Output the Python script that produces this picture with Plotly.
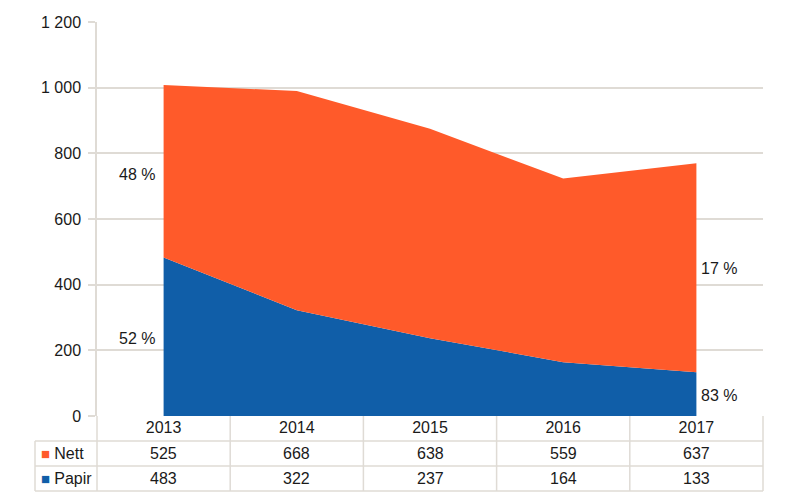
import plotly.graph_objects as go

years = ["2013", "2014", "2015", "2016", "2017"]
nett = [525, 668, 638, 559, 637]
papir = [483, 322, 237, 164, 133]
series_names = ["Nett", "Papir"]

ORANGE = "#FF5A2A"
BLUE = "#105EA8"
GRID = "#DFDBD5"
FONT = "Liberation Sans, Arial, sans-serif"
TXT = "#1a1a1a"

W, H = 786, 502
L, R, T, B = 97, 23, 22, 86
pw, ph = W - L - R, H - T - B


def py(p):  # pixel y -> paper y
    return (H - B - p) / ph


def px(p):  # pixel x -> paper x
    return (p - L) / pw


xs = list(range(len(years)))
fig = go.Figure()
fig.add_trace(go.Scatter(x=xs, y=papir, name="Papir", stackgroup="one", mode="lines",
                         line=dict(width=0, color=BLUE), fillcolor=BLUE, hoverinfo="y"))
fig.add_trace(go.Scatter(x=xs, y=nett, name="Nett", stackgroup="one", mode="lines",
                         line=dict(width=0, color=ORANGE), fillcolor=ORANGE, hoverinfo="y"))

shapes = []
row_edges = [441, 466, 491]
for yy in row_edges:
    shapes.append(dict(type="line", xref="paper", yref="paper", x0=px(35), x1=1,
                       y0=py(yy), y1=py(yy), line=dict(color=GRID, width=1.5)))
n = len(years)
for k in range(n + 1):
    shapes.append(dict(type="line", xref="paper", yref="paper", x0=k / n, x1=k / n,
                       y0=0, y1=py(491), line=dict(color=GRID, width=1.5)))
shapes.append(dict(type="line", xref="paper", yref="paper", x0=px(35), x1=px(35),
                   y0=py(441), y1=py(491), line=dict(color=GRID, width=1.5)))

annotations = []
rows = [("Nett", nett, ORANGE, 453.5), ("Papir", papir, BLUE, 478.5)]
for name, vals, col, yc in rows:
    annotations.append(dict(xref="paper", yref="paper", x=px(39), y=py(yc), xanchor="left",
                            yanchor="middle", showarrow=False,
                            text=f'<span style="color:{col};font-size:15px">■ </span>{name}',
                            font=dict(family=FONT, size=16, color=TXT)))
    for i, v in enumerate(vals):
        annotations.append(dict(xref="paper", yref="paper", x=(i + 0.5) / n, y=py(yc),
                                xanchor="center", yanchor="middle", showarrow=False,
                                text=str(v), font=dict(family=FONT, size=16, color=TXT)))

tot0 = nett[0] + papir[0]
tot4 = nett[-1] + papir[-1]
pct_labels = [
    (-0.2, 737, round(papir[0] / tot0 * 100)),
    (-0.2, 237, round(nett[0] / tot0 * 100)),
    (4.17, 448, round(papir[-1] / tot4 * 100)),
    (4.17, 61, round(nett[-1] / tot4 * 100)),
]
for x, y, p in pct_labels:
    annotations.append(dict(x=x, y=y, xref="x", yref="y", showarrow=False, text=f"{p} %",
                            xanchor="center", yanchor="middle",
                            font=dict(family=FONT, size=16, color=TXT)))

fig.update_layout(
    width=W, height=H, margin=dict(l=L, r=R, t=T, b=B, pad=0),
    paper_bgcolor="white", plot_bgcolor="white", showlegend=False,
    separators=", ",
    font=dict(family=FONT, size=16, color=TXT),
    shapes=shapes, annotations=annotations,
    xaxis=dict(range=[-0.5, 4.5], tickvals=xs, ticktext=years, showgrid=False,
               zeroline=False, showline=False, ticks="", fixedrange=True),
    yaxis=dict(range=[0, 1200], dtick=200, tickformat=",d", showgrid=True, gridcolor=GRID,
               gridwidth=1.5, zeroline=False, showline=True, linecolor=GRID, linewidth=1.5,
               ticks="outside", ticklen=7, tickcolor=GRID, tickwidth=1.5, fixedrange=True,
               ticklabelstandoff=4),
)

fig.write_html("out.html", config={"displayModeBar": False},
               post_script="document.body.style.margin='0';document.body.style.overflow='hidden';")
